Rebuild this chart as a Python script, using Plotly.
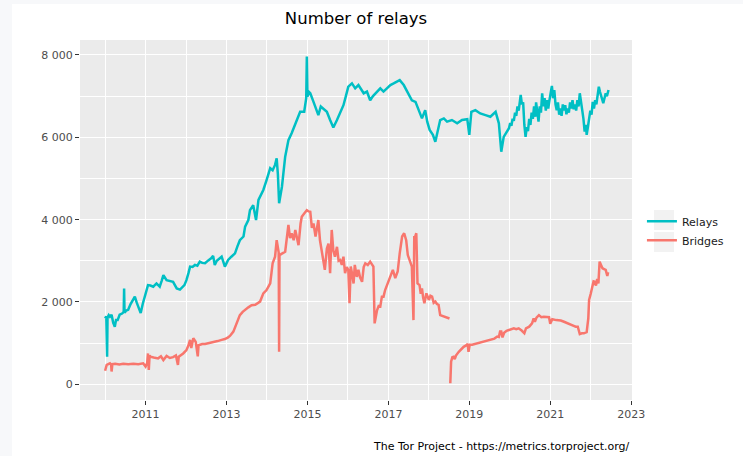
import plotly.graph_objects as go

# ---------------- data ----------------
relays_year = [
    2010.00, 2010.03, 2010.05, 2010.06, 2010.09, 2010.12, 2010.16, 2010.20, 2010.24, 2010.27,
    2010.31, 2010.36, 2010.42, 2010.46, 2010.47, 2010.48, 2010.52, 2010.57, 2010.63, 2010.68,
    2010.735, 2010.78, 2010.82, 2010.88, 2010.93, 2010.98, 2011.03, 2011.06, 2011.12, 2011.19,
    2011.27, 2011.35, 2011.40, 2011.44, 2011.52, 2011.60, 2011.68, 2011.77, 2011.85, 2011.96,
    2012.01, 2012.06, 2012.10, 2012.16, 2012.22, 2012.28, 2012.34, 2012.40, 2012.47, 2012.55,
    2012.62, 2012.67, 2012.71, 2012.76, 2012.83, 2012.88, 2012.96, 2013.04, 2013.12, 2013.21,
    2013.27, 2013.33, 2013.42, 2013.46, 2013.54, 2013.58, 2013.66, 2013.73, 2013.79, 2013.85,
    2013.91, 2013.99, 2014.08, 2014.14, 2014.20, 2014.24, 2014.27, 2014.30, 2014.37, 2014.45,
    2014.53, 2014.61, 2014.70, 2014.76, 2014.82, 2014.92, 2014.97, 2014.985, 2015.00, 2015.04,
    2015.07, 2015.15, 2015.21, 2015.27, 2015.33, 2015.38, 2015.48, 2015.56, 2015.64, 2015.73,
    2015.81, 2015.89, 2015.95, 2016.01, 2016.10, 2016.18, 2016.26, 2016.33, 2016.39, 2016.47,
    2016.55, 2016.62, 2016.68, 2016.80, 2016.88, 2016.97, 2017.05, 2017.13, 2017.21, 2017.28,
    2017.38, 2017.46, 2017.52, 2017.58, 2017.67, 2017.75, 2017.83, 2017.91, 2017.96, 2018.02,
    2018.10, 2018.16, 2018.22, 2018.28, 2018.37, 2018.45, 2018.57, 2018.70, 2018.82, 2018.95,
    2019.00, 2019.05, 2019.15, 2019.27, 2019.40, 2019.52, 2019.65, 2019.73, 2019.79, 2019.85,
    2019.98, 2020.01, 2020.04, 2020.07, 2020.10, 2020.13, 2020.16, 2020.19, 2020.22, 2020.25,
    2020.27, 2020.30, 2020.33, 2020.36, 2020.39, 2020.42, 2020.45, 2020.48, 2020.51, 2020.54,
    2020.57, 2020.60, 2020.63, 2020.65, 2020.68, 2020.71, 2020.74, 2020.77, 2020.80, 2020.83,
    2020.86, 2020.89, 2020.92, 2020.95, 2020.98, 2021.01, 2021.04, 2021.07, 2021.10, 2021.13,
    2021.16, 2021.19, 2021.22, 2021.25, 2021.28, 2021.31, 2021.34, 2021.37, 2021.40, 2021.43,
    2021.46, 2021.49, 2021.52, 2021.55, 2021.58, 2021.61, 2021.64, 2021.67, 2021.70, 2021.73,
    2021.76, 2021.79, 2021.82, 2021.85, 2021.88, 2021.90, 2021.93, 2021.96, 2021.99, 2022.02,
    2022.05, 2022.08, 2022.11, 2022.14, 2022.17, 2022.20, 2022.23, 2022.26, 2022.29, 2022.31,
    2022.34, 2022.37, 2022.40, 2022.44,
]
relays_count = [
    1600, 1650, 670, 1620, 1680, 1640, 1690, 1500, 1400, 1560,
    1560, 1690, 1720, 1760, 2330, 1740, 1790, 1810, 1950, 2050,
    2130, 1990, 1880, 1730, 1950, 2130, 2250, 2410, 2400, 2370,
    2450, 2370, 2520, 2650, 2530, 2510, 2490, 2330, 2300, 2410,
    2530, 2700, 2860, 2850, 2900, 2880, 2980, 2950, 2940, 3010,
    3060, 3120, 2900, 3000, 3060, 3100, 2860, 3020, 3100, 3180,
    3350, 3500, 3590, 3830, 3990, 4230, 4350, 3990, 4480, 4600,
    4720, 4960, 5250, 5200, 5330, 5490, 5100, 4400, 4800, 5530,
    5930, 6100, 6340, 6500, 6620, 6620, 6950, 7960, 6990, 7100,
    7070, 6860, 6700, 6540, 6750, 6700, 6620, 6420, 6240, 6420,
    6600, 6780, 7000, 7230, 7310, 7190, 7270, 7150, 7070, 7110,
    6900, 7000, 7070, 7190, 7110, 7190, 7270, 7310, 7350, 7390,
    7270, 7110, 7000, 6900, 6860, 6660, 6460, 6660, 6380, 6180,
    6060, 5890, 6180, 6420, 6460, 6380, 6420, 6340, 6420, 6440,
    6060, 6620, 6660, 6580, 6540, 6500, 6620, 6340, 5650, 6010,
    6220, 6350, 6280, 6450, 6400, 6600, 6520, 6750, 6650, 6950,
    7030, 6800, 6850, 6300, 6010, 6250, 6150, 6450, 6300, 6600,
    6450, 6750, 6500, 6850, 6550, 6380, 6750, 6600, 7070, 6750,
    6950, 6650, 6900, 6700, 6900, 7050, 7250, 6950, 7150, 6800,
    6660, 6850, 6550, 6700, 6520, 6800, 6650, 6780, 6560, 6700,
    6600, 6850, 6700, 6900, 6680, 6800, 6650, 6900, 6750, 7070,
    6800, 6660, 6450, 6140, 6300, 6060, 6250, 6460, 6650, 6550,
    6860, 6700, 6900, 6800, 7000, 7230, 7100, 6990, 6850, 6830,
    6950, 7070, 7000, 7150,
]

bridges_year = [
    2010.00, 2010.02, 2010.04, 2010.08, 2010.12, 2010.15, 2010.16, 2010.18, 2010.25, 2010.35,
    2010.45, 2010.57, 2010.70, 2010.82, 2010.94, 2011.00, 2011.04, 2011.06, 2011.08, 2011.10,
    2011.12, 2011.20, 2011.31, 2011.38, 2011.44, 2011.52, 2011.60, 2011.68, 2011.75, 2011.80,
    2011.82, 2011.93, 2012.01, 2012.06, 2012.10, 2012.13, 2012.18, 2012.24, 2012.29, 2012.31,
    2012.40, 2012.47, 2012.57, 2012.67, 2012.78, 2012.88, 2012.96, 2013.04, 2013.09, 2013.17,
    2013.25, 2013.33, 2013.40, 2013.46, 2013.54, 2013.62, 2013.71, 2013.83, 2013.91, 2013.99,
    2014.08, 2014.14, 2014.20, 2014.24, 2014.27, 2014.29, 2014.30, 2014.31, 2014.38, 2014.45,
    2014.53, 2014.57, 2014.61, 2014.66, 2014.70, 2014.74, 2014.78, 2014.83, 2014.86, 2014.92,
    2014.985, 2015.03, 2015.07, 2015.11, 2015.15, 2015.20, 2015.23, 2015.27, 2015.31, 2015.35,
    2015.40, 2015.43, 2015.48, 2015.52, 2015.56, 2015.60, 2015.64, 2015.68, 2015.73, 2015.77,
    2015.81, 2015.85, 2015.89, 2015.93, 2015.97, 2016.01, 2016.04, 2016.07, 2016.11, 2016.14,
    2016.17, 2016.22, 2016.26, 2016.30, 2016.35, 2016.39, 2016.43, 2016.49, 2016.55, 2016.60,
    2016.63, 2016.66, 2016.72, 2016.76, 2016.80, 2016.84, 2016.88, 2016.92, 2016.98, 2017.05,
    2017.11, 2017.17, 2017.23, 2017.28, 2017.34, 2017.39, 2017.44, 2017.48, 2017.53, 2017.58,
    2017.62, 2017.64, 2017.66, 2017.69, 2017.72, 2017.77, 2017.80, 2017.83, 2017.86, 2017.89,
    2017.94, 2018.00, 2018.04, 2018.08, 2018.12, 2018.16, 2018.20, 2018.24, 2018.28, 2018.35,
    2018.41, 2018.51, 2018.52, 2018.53, 2018.55, 2018.58, 2018.61, 2018.64, 2018.67, 2018.74,
    2018.80, 2018.86, 2018.91, 2018.96, 2018.98, 2019.01, 2019.07, 2019.15, 2019.23, 2019.32,
    2019.40, 2019.48, 2019.56, 2019.62, 2019.69, 2019.73, 2019.76, 2019.79, 2019.82, 2019.86,
    2019.92, 2019.98, 2020.04, 2020.10, 2020.16, 2020.22, 2020.30, 2020.36, 2020.40, 2020.48,
    2020.55, 2020.59, 2020.62, 2020.66, 2020.72, 2020.78, 2020.84, 2020.92, 2020.97, 2021.00,
    2021.05, 2021.15, 2021.26, 2021.34, 2021.42, 2021.50, 2021.58, 2021.63, 2021.68, 2021.73,
    2021.78, 2021.83, 2021.90, 2021.94, 2021.96, 2022.00, 2022.04, 2022.07, 2022.10, 2022.13,
    2022.16, 2022.19, 2022.22, 2022.25, 2022.29, 2022.33, 2022.37, 2022.41, 2022.43,
]
bridges_count = [
    330, 420, 470, 490, 510, 480, 310, 490, 500, 480,
    500, 490, 500, 490, 510, 430, 520, 750, 350, 700,
    670, 650, 630, 680, 590, 690, 640, 660, 700, 470,
    670, 750, 830, 950, 1080, 880, 1120, 1030, 680, 950,
    980, 980, 1000, 1010, 1050, 1080, 1100, 1140, 1180, 1280,
    1480, 1680, 1760, 1810, 1870, 1920, 1930, 2010, 2210, 2290,
    2450, 2940, 3100, 3500, 3250, 3200, 790, 3140, 3180, 3220,
    3870, 3550, 3670, 3500, 3750, 3600, 3380, 3900, 4070, 4150,
    4230, 4200, 4190, 3800, 3910, 3590, 3800, 3990, 3500, 3260,
    3050, 2780, 3300, 3420, 2700, 3750, 3250, 3100, 3340, 3000,
    3020, 2900, 3100, 2700, 2850, 2780, 1970, 2860, 2650, 2450,
    2900, 2610, 2780, 2600, 2490, 2850, 2940, 2900, 2980, 2920,
    2860, 1480, 1800, 1900, 1890, 2130, 2130, 2290, 2450, 2610,
    2780, 2580, 2740, 3180, 3590, 3670, 3500, 3140, 3000, 2860,
    1560, 3600, 3580, 3670, 2450, 2410, 2200, 2330, 2100, 1970,
    2210, 2050, 2150, 2130, 1980, 2010, 1950, 1930, 1680, 1650,
    1640, 1600, None, 25, 550, 660, 670, 610, 700, 790,
    860, 910, 940, 980, 790, 960, 960, 980, 1000, 1020,
    1040, 1060, 1080, 1110, 1160, 1150, 1280, 1280, 1140, 1250,
    1300, 1320, 1350, 1360, 1340, 1360, 1300, 1240, 1360, 1400,
    1480, 1600, 1520, 1620, 1680, 1630, 1640, 1630, 1630, 1470,
    1580, 1560, 1550, 1520, 1480, 1450, 1420, 1400, 1400, 1220,
    1240, 1240, 1270, 1600, 2050, 2200, 2370, 2500, 2490, 2400,
    2560, 2450, 2980, 2900, 2820, 2800, 2780, 2630, 2720,
]

series_names = ["Relays", "Bridges"]
series_colors = ["#00BFC4", "#F8766D"]

x_major_ticks = [2011, 2013, 2015, 2017, 2019, 2021, 2023]
x_minor_ticks = [2010, 2012, 2014, 2016, 2018, 2020, 2022]
y_major_ticks = [0, 2000, 4000, 6000, 8000]
y_tick_labels = ["0", "2 000", "4 000", "6 000", "8 000"]
y_minor_ticks = [1000, 3000, 5000, 7000]

title_text = "Number of relays"
caption_text = "The Tor Project - https://metrics.torproject.org/"

# ---------------- figure ----------------
FONT = "DejaVu Sans"
fig = go.Figure()
fig.add_trace(go.Scatter(x=relays_year, y=relays_count, mode="lines", name=series_names[0],
                         line=dict(color=series_colors[0], width=2.5), connectgaps=False))
fig.add_trace(go.Scatter(x=bridges_year, y=bridges_count, mode="lines", name=series_names[1],
                         line=dict(color=series_colors[1], width=2.5), connectgaps=False))

axis_common = dict(
    showgrid=True, gridcolor="#FFFFFF", gridwidth=1.1, zeroline=False, showline=False,
    ticks="outside", ticklen=4, tickwidth=1, tickcolor="#333333",
    tickfont=dict(family=FONT, size=11, color="#4D4D4D"),
)
fig.update_xaxes(
    range=[2009.38, 2023.02], tickmode="array", tickvals=x_major_ticks,
    ticktext=[str(v) for v in x_major_ticks],
    minor=dict(tickmode="array", tickvals=x_minor_ticks, showgrid=True,
               gridcolor="#FFFFFF", gridwidth=0.55, ticks=""),
    **axis_common,
)
fig.update_yaxes(
    range=[-381, 8364], tickmode="array", tickvals=y_major_ticks, ticktext=y_tick_labels,
    minor=dict(tickmode="array", tickvals=y_minor_ticks, showgrid=True,
               gridcolor="#FFFFFF", gridwidth=0.55, ticks=""),
    **axis_common,
)

fig.update_layout(
    width=743, height=456,
    margin=dict(l=80, r=111, t=40, b=56, autoexpand=False),
    paper_bgcolor="#FFFFFF", plot_bgcolor="#EBEBEB",
    font=dict(family=FONT, size=11, color="#000000"),
    title=dict(text=title_text, x=0.5, xref="paper", xanchor="center",
               y=1 - 18 / 456, yref="container", yanchor="middle",
               font=dict(family=FONT, size=16.5, color="#000000")),
    showlegend=True,
    legend=dict(x=1.018, xanchor="left", y=0.47, yanchor="middle",
                bgcolor="rgba(255,255,255,0)", font=dict(family=FONT, size=11, color="#1A1A1A"),
                itemwidth=30, tracegroupgap=0),
    annotations=[dict(text=caption_text, xref="paper", yref="paper", x=1.0, y=-0.128,
                      xanchor="right", yanchor="middle", showarrow=False,
                      font=dict(family=FONT, size=11, color="#000000"))],
    shapes=[
        dict(type="rect", xref="paper", yref="paper", x0=-80 / 552, x1=-68 / 552,
             y0=-56 / 360, y1=1 + 40 / 360, fillcolor="#F7F8FA", line=dict(width=0), layer="below"),
        dict(type="rect", xref="paper", yref="paper", x0=-80 / 552, x1=1 + 111 / 552,
             y0=1 + 36 / 360, y1=1 + 40 / 360, fillcolor="#F7F8FA", line=dict(width=0), layer="below"),
        dict(type="rect", xref="paper", yref="paper", x0=574 / 552, x1=594 / 552,
             y0=170 / 360, y1=190 / 360, fillcolor="#F2F2F2", line=dict(width=0), layer="below"),
        dict(type="rect", xref="paper", yref="paper", x0=574 / 552, x1=594 / 552,
             y0=148 / 360, y1=168 / 360, fillcolor="#F2F2F2", line=dict(width=0), layer="below"),
    ],
)

fig.write_html(
    "out.html",
    config={"displayModeBar": False},
    post_script="document.body.style.margin='0';document.body.style.padding='0';"
                "document.body.style.overflow='hidden';",
)
